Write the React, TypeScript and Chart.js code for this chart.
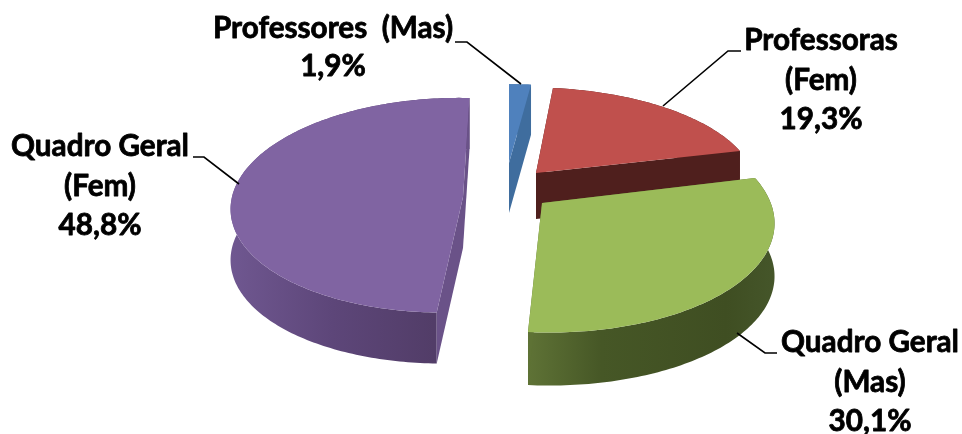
import React, { useEffect, useRef } from "react";
import { Chart, registerables } from "chart.js";

Chart.register(...registerables);

// ---- data ----
const categories = ["Professores  (Mas)", "Professoras (Fem)", "Quadro Geral (Mas)", "Quadro Geral (Fem)"];
const labelLines = [["Professores  (Mas)"], ["Professoras", "(Fem)"], ["Quadro Geral", "(Mas)"], ["Quadro Geral", "(Fem)"]];
const values = [1.9, 19.3, 30.1, 48.8];
const faceColors = ["#4f81bd", "#c0504d", "#9bbb59", "#8064a2"];

// ---- styling / layout (exploded, perspective projection of each slice) ----
const radialColors = ["#3f6d9e", "#4f1f1d", "#5e7235", "#6a5288"];
const wallStops: [number, string][][] = [
  [[0, "#3f6d9e"], [1, "#3f6d9e"]],
  [[0, "#4f1f1d"], [1, "#4f1f1d"]],
  [[0, "#5f7336"], [0.3, "#465726"], [0.8, "#3f4e22"], [1, "#45562a"]],
  [[0, "#6f5790"], [0.5, "#5d4679"], [1, "#523d68"]],
];
const wallRange = [[509, 531], [536, 740], [527, 776], [232, 433]];
const proj = [
  { cx: 509, cy: 163, rx: 209, k: 0, ry: 89, h: -0.13, g: 0, depth: 50 },
  { cx: 536, cy: 173, rx: 217.4, k: 7, ry: 95.5, h: -0.116, g: 0, depth: 46 },
  { cx: 542, cy: 203, rx: 228.7, k: 6.1, ry: 109.5, h: -0.1546, g: 0, depth: 53 },
  { cx: 463, cy: 197, rx: 219.5, k: -7, ry: 106.6, h: -0.0766, g: 0.05, depth: 51 },
];
const paintOrder = [0, 1, 3, 2];
const leaders = [
  [[455, 42], [467, 42], [521, 84]],
  [[741, 51], [728, 51], [663, 106]],
  [[777, 353], [765, 353], [737, 333]],
  [[193, 157], [204, 157], [239, 184]],
];
const labelAnchors = [
  { x: 333, baselines: [38, 76] },
  { x: 821, baselines: [50, 90, 129] },
  { x: 870, baselines: [352, 392, 431] },
  { x: 100, baselines: [156, 196, 235] },
];
const labelFont = "bold 29.7px Lato";

function project(p: any, theta: number) {
  const X = Math.sin(theta);
  const Y = -Math.cos(theta);
  const den = 1 + p.h * Y + p.g * X;
  return [p.cx + (p.rx * X + p.k * Y) / den, p.cy + (p.ry * Y) / den];
}

const pie3d = {
  id: "pie3d",
  beforeDatasetDraw(chart: any) {
    const ctx = chart.ctx as CanvasRenderingContext2D;
    const arcs = chart.getDatasetMeta(0).data;
    for (const i of paintOrder) {
      const el = arcs[i];
      const p = proj[i];
      const t0 = el.startAngle + Math.PI / 2;
      const t1 = el.endAngle + Math.PI / 2;
      const n = Math.max(4, Math.ceil(((t1 - t0) * 180) / Math.PI));
      const pts: number[][] = [];
      for (let s = 0; s <= n; s++) pts.push(project(p, t0 + ((t1 - t0) * s) / n));
      const first = pts[0];
      const last = pts[n];

      // outer wall
      const g = ctx.createLinearGradient(wallRange[i][0], 0, wallRange[i][1], 0);
      for (const [o, c] of wallStops[i]) g.addColorStop(o, c);
      ctx.fillStyle = g;
      ctx.beginPath();
      pts.forEach((q, k) => (k ? ctx.lineTo(q[0], q[1]) : ctx.moveTo(q[0], q[1])));
      for (let k = n; k >= 0; k--) ctx.lineTo(pts[k][0], pts[k][1] + p.depth);
      ctx.closePath();
      ctx.fill();

      // radial walls
      ctx.fillStyle = radialColors[i];
      for (const e of [first, last]) {
        ctx.beginPath();
        ctx.moveTo(p.cx, p.cy);
        ctx.lineTo(e[0], e[1]);
        ctx.lineTo(e[0], e[1] + p.depth);
        ctx.lineTo(p.cx, p.cy + p.depth);
        ctx.closePath();
        ctx.fill();
      }

      // top face
      ctx.fillStyle = el.options.backgroundColor;
      ctx.beginPath();
      ctx.moveTo(p.cx, p.cy);
      pts.forEach((q) => ctx.lineTo(q[0], q[1]));
      ctx.closePath();
      ctx.fill();
    }
    return false;
  },
  afterDraw(chart: any) {
    const ctx = chart.ctx as CanvasRenderingContext2D;
    ctx.save();
    ctx.strokeStyle = "#000";
    ctx.lineWidth = 1.6;
    for (const l of leaders) {
      ctx.beginPath();
      l.forEach((q, k) => (k ? ctx.lineTo(q[0], q[1]) : ctx.moveTo(q[0], q[1])));
      ctx.stroke();
    }
    ctx.fillStyle = "#000";
    ctx.font = labelFont;
    ctx.textAlign = "center";
    ctx.textBaseline = "alphabetic";
    ctx.lineWidth = 0.8;
    ctx.lineJoin = "round";
    values.forEach((v, i) => {
      const lines = [...labelLines[i], v.toFixed(1).replace(".", ",") + "%"];
      lines.forEach((t, k) => {
        ctx.fillText(t, labelAnchors[i].x, labelAnchors[i].baselines[k]);
        ctx.strokeText(t, labelAnchors[i].x, labelAnchors[i].baselines[k]);
      });
    });
    ctx.restore();
  },
};

export default function App() {
  const ref = useRef<HTMLCanvasElement>(null);
  useEffect(() => {
    const chart = new Chart(ref.current as HTMLCanvasElement, {
      type: "pie",
      data: {
        labels: categories,
        datasets: [{ data: values, backgroundColor: faceColors, borderWidth: 0 }],
      },
      options: {
        responsive: false,
        animation: false,
        rotation: 0,
        plugins: { legend: { display: false }, tooltip: { enabled: false } },
      },
      plugins: [pie3d],
    } as any);
    return () => chart.destroy();
  }, []);
  return (
    <div style={{ position: "fixed", left: 0, top: 0, width: 962, height: 434, background: "#fff" }}>
      <canvas ref={ref} width={962} height={434} style={{ display: "block" }} />
    </div>
  );
}
